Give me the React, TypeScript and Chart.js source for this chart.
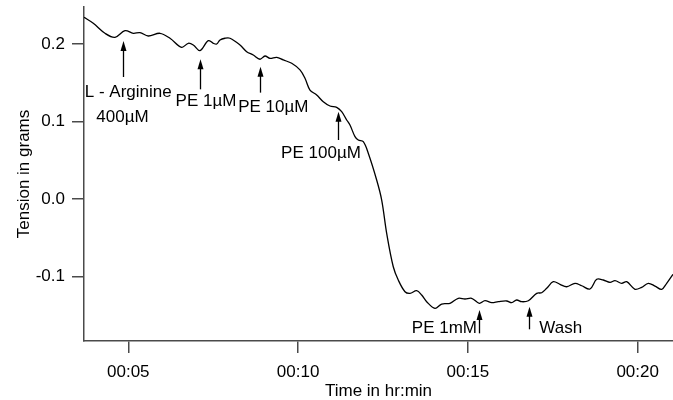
import React, { useEffect, useRef } from "react";
import { Chart, registerables } from "chart.js";

Chart.register(...registerables);

// Time in minutes (hr:min axis) and tension in grams
const timeMin = [
  3.696, 3.969, 4.314, 4.608, 4.903, 5.147, 5.345, 5.589, 5.933, 6.228,
  6.572, 6.767, 6.914, 7.111, 7.356, 7.503, 7.603, 7.701, 7.847, 7.995,
  8.289, 8.486, 8.681, 8.878, 9.025, 9.172, 9.37, 9.564, 9.812, 10.056,
  10.203, 10.35, 10.548, 10.742, 10.939, 11.137, 11.284, 11.431, 11.528, 11.676,
  11.773, 11.92, 12.067, 12.314, 12.462, 12.609, 12.803, 12.95, 13.148, 13.295,
  13.492, 13.639, 13.787, 14.031, 14.228, 14.473, 14.717, 14.915, 15.112, 15.336,
  15.503, 15.701, 15.895, 16.143, 16.29, 16.437, 16.584, 16.78, 17.026, 17.173,
  17.321, 17.515, 17.712, 17.909, 18.154, 18.351, 18.596, 18.793, 18.987, 19.185,
  19.332, 19.529, 19.676, 19.921, 20.118, 20.312, 20.509, 20.707, 20.854, 21.04,
];
const tension = [
  0.2345, 0.2267, 0.2138, 0.2086, 0.2172, 0.2138, 0.2146, 0.2103, 0.2138, 0.2074,
  0.1957, 0.2009, 0.1987, 0.1914, 0.2043, 0.2009, 0.2, 0.2052, 0.2074, 0.2074,
  0.1987, 0.1901, 0.1858, 0.1803, 0.1845, 0.1815, 0.1828, 0.1794, 0.1751, 0.1665,
  0.1557, 0.1406, 0.1342, 0.1255, 0.12, 0.1183, 0.1126, 0.1019, 0.0955, 0.0804,
  0.0761, 0.0739, 0.059, 0.0245, -0.0013, -0.0443, -0.0874, -0.1045, -0.1196, -0.1217,
  -0.1183, -0.1239, -0.1325, -0.141, -0.1355, -0.1346, -0.1281, -0.129, -0.1281, -0.1346,
  -0.1312, -0.1338, -0.1325, -0.1316, -0.1338, -0.1303, -0.1325, -0.1312, -0.1217, -0.1209,
  -0.1152, -0.1067, -0.1101, -0.1132, -0.1088, -0.1119, -0.1161, -0.1036, -0.1045, -0.1075,
  -0.1054, -0.1088, -0.1067, -0.1165, -0.1139, -0.1088, -0.1123, -0.1165, -0.1088, -0.0972,
];

const xTicks = [5, 10, 15, 20];
const yTicks = [-0.1, 0, 0.1, 0.2];

// Arrow annotations: time (min), tip value, base value
const arrowTime = [4.859, 7.111, 8.878, 11.184, 15.327, 16.808];
const arrowTip = [0.2039, 0.1803, 0.1707, 0.1126, -0.1432, -0.139];
const arrowBase = [0.1574, 0.1415, 0.1372, 0.0761, -0.1733, -0.1681];

// Text annotations: text, anchor time (min), baseline value, alignment
const labelText = ["L - Arginine", "400µM", "PE 1µM", "PE 10µM", "PE 100µM", "PE 1mM", "Wash"];
const labelTime = [4.999, 4.829, 7.288, 9.27, 10.674, 15.268, 17.103];
const labelValue = [0.1312, 0.0997, 0.1194, 0.1119, 0.0523, -0.1729, -0.1729];
const labelAlign = ["center", "center", "center", "center", "center", "right", "left"];

const FONT = "'Liberation Sans', Arial, Helvetica, sans-serif";
const AXIS_COLOR = "#4a4a4a";

const annotationPlugin = {
  id: "arrowsAndLabels",
  afterDatasetsDraw(chart: any) {
    const { ctx } = chart;
    const xs = chart.scales.x;
    const ys = chart.scales.y;
    ctx.save();
    ctx.strokeStyle = "#000";
    ctx.fillStyle = "#000";
    ctx.lineWidth = 1.3;
    for (let i = 0; i < arrowTime.length; i++) {
      const px = Math.round(xs.getPixelForValue(arrowTime[i])) + 0.5;
      const tip = ys.getPixelForValue(arrowTip[i]);
      const base = ys.getPixelForValue(arrowBase[i]);
      const headLen = 10;
      const headHalf = 3;
      ctx.beginPath();
      ctx.moveTo(px, base);
      ctx.lineTo(px, tip + headLen - 1);
      ctx.stroke();
      ctx.beginPath();
      ctx.moveTo(px, tip);
      ctx.lineTo(px - headHalf, tip + headLen);
      ctx.lineTo(px + headHalf, tip + headLen);
      ctx.closePath();
      ctx.fill();
    }
    ctx.font = `17px ${FONT}`;
    ctx.textBaseline = "alphabetic";
    for (let i = 0; i < labelText.length; i++) {
      ctx.textAlign = labelAlign[i] as CanvasTextAlign;
      ctx.fillText(labelText[i], xs.getPixelForValue(labelTime[i]), ys.getPixelForValue(labelValue[i]));
    }
    ctx.restore();
  },
};

export default function App() {
  const canvasRef = useRef<HTMLCanvasElement | null>(null);

  useEffect(() => {
    if (!canvasRef.current) return;
    const points = timeMin.map((t, i) => ({ x: t, y: tension[i] }));
    const chart = new Chart(canvasRef.current, {
      type: "line",
      data: {
        datasets: [
          {
            data: points,
            borderColor: "#000",
            borderWidth: 1.3,
            pointRadius: 0,
            tension: 0.35,
            fill: false,
          },
        ],
      },
      options: {
        animation: false,
        responsive: true,
        maintainAspectRatio: false,
        layout: { padding: { top: 7, right: 0, left: 0, bottom: 0 } },
        plugins: { legend: { display: false }, tooltip: { enabled: false } },
        scales: {
          x: {
            type: "linear",
            min: 3.696,
            max: 21.04,
            afterBuildTicks: (scale: any) => {
              scale.ticks = xTicks.map((v) => ({ value: v }));
            },
            afterFit: (scale: any) => {
              scale.height = 59;
              scale.paddingLeft = 0;
              scale.paddingRight = 0;
            },
            ticks: {
              color: "#000",
              font: { family: FONT, size: 17 },
              padding: 9,
              maxRotation: 0,
              callback: (v: any) => "00:" + String(v).padStart(2, "0"),
            },
            grid: {
              drawOnChartArea: false,
              drawTicks: true,
              tickLength: 12,
              color: AXIS_COLOR,
              lineWidth: 1.5,
            },
            border: { display: true, color: AXIS_COLOR, width: 1.5 },
            title: {
              display: true,
              text: "Time in hr:min",
              color: "#000",
              font: { family: FONT, size: 17 },
              padding: { top: 0, bottom: -2 },
            },
          },
          y: {
            type: "linear",
            min: -0.1832,
            max: 0.2477,
            afterBuildTicks: (scale: any) => {
              scale.ticks = yTicks.map((v) => ({ value: v }));
            },
            afterFit: (scale: any) => {
              scale.width = 84;
              scale.paddingTop = 0;
              scale.paddingBottom = 0;
            },
            ticks: {
              color: "#000",
              font: { family: FONT, size: 17 },
              padding: 7,
              callback: (v: any) => Number(v).toFixed(1),
            },
            grid: {
              drawOnChartArea: false,
              drawTicks: true,
              tickLength: 12,
              color: AXIS_COLOR,
              lineWidth: 1.5,
            },
            border: { display: true, color: AXIS_COLOR, width: 1.5 },
            title: {
              display: true,
              text: "Tension in grams",
              color: "#000",
              font: { family: FONT, size: 17 },
              padding: { top: 14, bottom: 0 },
            },
          },
        },
      },
      plugins: [annotationPlugin],
    });
    return () => chart.destroy();
  }, []);

  return (
    <div style={{ position: "fixed", left: 0, top: 0, width: 673, height: 400, background: "#fff" }}>
      <canvas ref={canvasRef} />
    </div>
  );
}
